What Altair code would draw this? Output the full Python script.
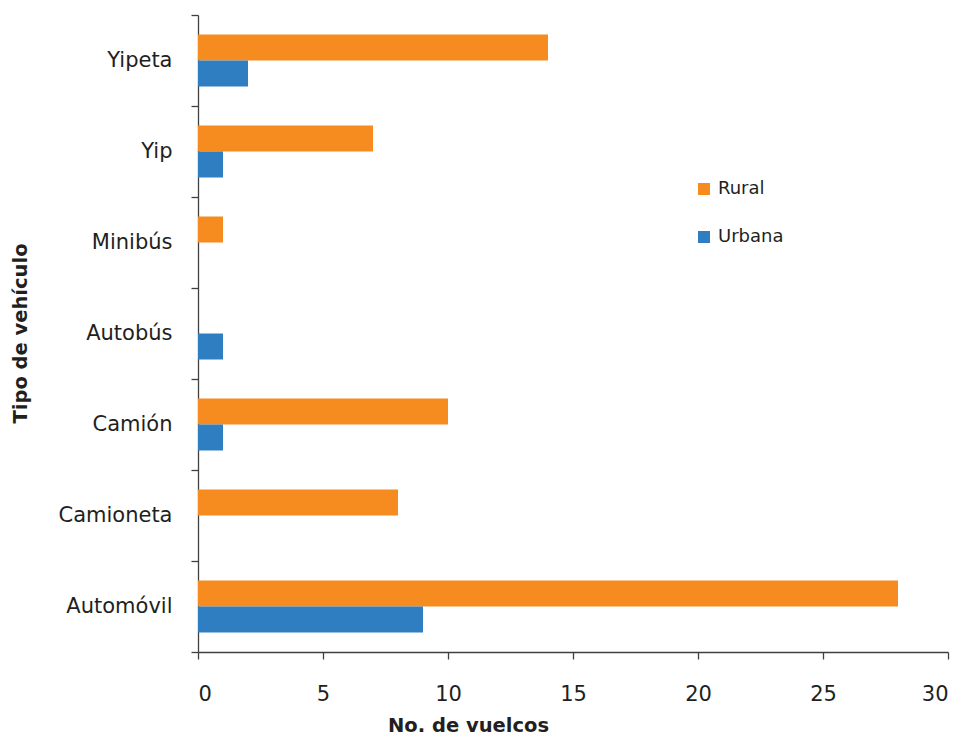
import altair as alt
import pandas as pd

categories = ["Yipeta", "Yip", "Minibús", "Autobús", "Camión", "Camioneta", "Automóvil"]
rural = [14, 7, 1, 0, 10, 8, 28]
urbana = [2, 1, 0, 1, 1, 0, 9]
series = ["Rural", "Urbana"]
colors = ["#F68B1F", "#2F7EC2"]
x_ticks = [0, 5, 10, 15, 20, 25, 30]

rows = []
for c, r, u in zip(categories, rural, urbana):
    rows.append({"tipo": c, "zona": "Rural", "n": r})
    rows.append({"tipo": c, "zona": "Urbana", "n": u})
df = pd.DataFrame(rows)

FONT = "DejaVu Sans"

chart = alt.Chart(df).mark_bar().encode(
    y=alt.Y(
        "tipo:N",
        sort=categories,
        scale=alt.Scale(paddingInner=0, paddingOuter=0),
        axis=alt.Axis(
            title="Tipo de vehículo",
            tickBand="extent",
            tickSize=7,
            labelPadding=19,
            labelFontSize=21,
            labelFont=FONT,
            labelColor="#231F20",
            titleFont=FONT,
            titleFontSize=19.5,
            titleFontWeight="bold",
            titleColor="#231F20",
            titleAngle=-90,
            titleX=-178,
            titleY=318,
            titleAlign="center",
            titleBaseline="middle",
            domainColor="#404040",
            tickColor="#404040",
            domainWidth=1.3,
            tickWidth=1.3,
        ),
    ),
    yOffset=alt.YOffset(
        "zona:N",
        sort=series,
        scale=alt.Scale(paddingInner=0, paddingOuter=0.75),
    ),
    x=alt.X(
        "n:Q",
        stack=None,
        scale=alt.Scale(domain=[0, 30], nice=False),
        axis=alt.Axis(
            title="No. de vuelcos",
            values=x_ticks,
            grid=False,
            tickSize=7,
            labelPadding=24,
            labelFontSize=21,
            labelFont=FONT,
            labelColor="#231F20",
            titleFont=FONT,
            titleFontSize=19.5,
            titleFontWeight="bold",
            titleColor="#231F20",
            titleX=270,
            titleY=73,
            titleAlign="center",
            titleBaseline="middle",
            domainColor="#404040",
            tickColor="#404040",
            domainWidth=1.3,
            tickWidth=1.3,
        ),
    ),
    color=alt.Color(
        "zona:N",
        sort=series,
        scale=alt.Scale(domain=series, range=colors),
        legend=alt.Legend(
            title=None,
            orient="none",
            legendX=497,
            legendY=165,
            padding=0,
            symbolType="square",
            symbolSize=144,
            symbolStrokeWidth=0,
            symbolOpacity=1,
            labelFont=FONT,
            labelFontSize=18,
            labelColor="#231F20",
            labelOffset=5,
            rowPadding=30,
        ),
    ),
).properties(
    width=750,
    height=637,
    padding={"left": 190, "top": 7, "right": 6, "bottom": 86},
    autosize=alt.AutoSizeParams(type="none"),
).configure_view(stroke=None)

chart.save("out.html", embed_options={"renderer": "svg", "actions": False})
